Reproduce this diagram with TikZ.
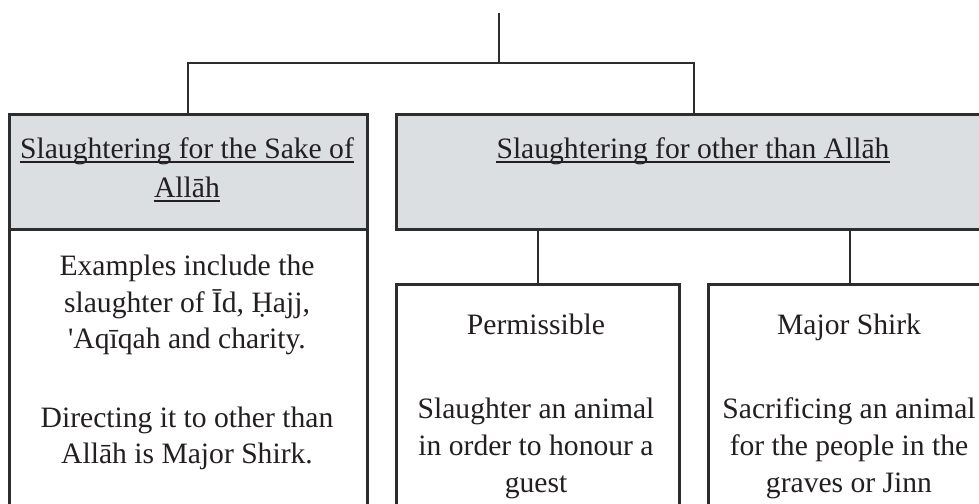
\documentclass[tikz,border=0pt]{standalone}
\usepackage{fontspec}
\setmainfont{Liberation Serif}
\definecolor{hdrfill}{RGB}{220,223,226}
\definecolor{linecol}{RGB}{45,45,45}
\definecolor{txtcol}{RGB}{35,31,32}
\tikzset{
  boxshape/.style={draw=linecol, line width=1.3pt, minimum width=#1, inner sep=0pt, anchor=north west},
  conn/.style={draw=linecol, line width=1.1pt},
  txt/.style={inner sep=0pt, anchor=base, text=txtcol, font=\fontsize{14.8}{18.5}\selectfont},
  uline/.style={draw=txtcol, line width=0.7pt}
}
\begin{document}
\begin{tikzpicture}[x=0.5pt,y=-0.5pt]
\useasboundingbox (0,0) rectangle (979,503);
\clip (0,0) rectangle (979,503);
% boxes
\node[boxshape=179pt, minimum height=150pt] (lbody) at (8,228) {};
\node[boxshape=179pt, minimum height=57.5pt, fill=hdrfill] (lh) at (8,113) {};
\node[boxshape=298pt, minimum height=57.5pt, fill=hdrfill] (rh) at (395,113) {};
\node[boxshape=141.5pt, minimum height=130pt] (perm) at (395,283) {};
\node[boxshape=142pt, minimum height=130pt] (major) at (707,283) {};
% connectors
\coordinate (top) at (499,13);
\coordinate (j) at (499,63);
\draw[conn] (top) -- (j);
\draw[conn] (lh.north) |- (j) -| (rh.north);
\draw[conn] (perm.north) -- (perm.north |- rh.south);
\draw[conn] (major.north) -- (major.north |- rh.south);
% header texts
\node[txt] (lh1) at (187,158) {Slaughtering for the Sake of};
\node[txt] (lh2) at (187,197) {Allāh};
\node[txt] (rh1) at (693,158) {Slaughtering for other than Allāh};
\draw[uline] ([yshift=-2pt]lh1.base west) -- ([yshift=-2pt]lh1.base east);
\draw[uline] ([yshift=-2pt]lh2.base west) -- ([yshift=-2pt]lh2.base east);
\draw[uline] ([yshift=-2pt]rh1.base west) -- ([yshift=-2pt]rh1.base east);
% left body
\node[txt] (l1) at (187,275) {Examples include the};
\node[txt] (l2) at (187,312) {slaughter of Īd, Ḥajj,};
\node[txt] (l3) at (187,348) {\textquotesingle Aqīqah and charity.};
\node[txt] (l4) at (187,427) {Directing it to other than};
\node[txt] (l5) at (187,463) {Allāh is Major Shirk.};
% permissible
\node[txt] (p1) at (536,334) {Permissible};
\node[txt] (p2) at (536,418) {Slaughter an animal};
\node[txt] (p3) at (536,455) {in order to honour a};
\node[txt] (p4) at (536,492) {guest};
% major shirk
\node[txt] (m1) at (849,334) {Major Shirk};
\node[txt] (m2) at (849,418) {Sacrificing an animal};
\node[txt] (m3) at (849,455) {for the people in the};
\node[txt] (m4) at (849,492) {graves or Jinn};
\end{tikzpicture}
\end{document}
